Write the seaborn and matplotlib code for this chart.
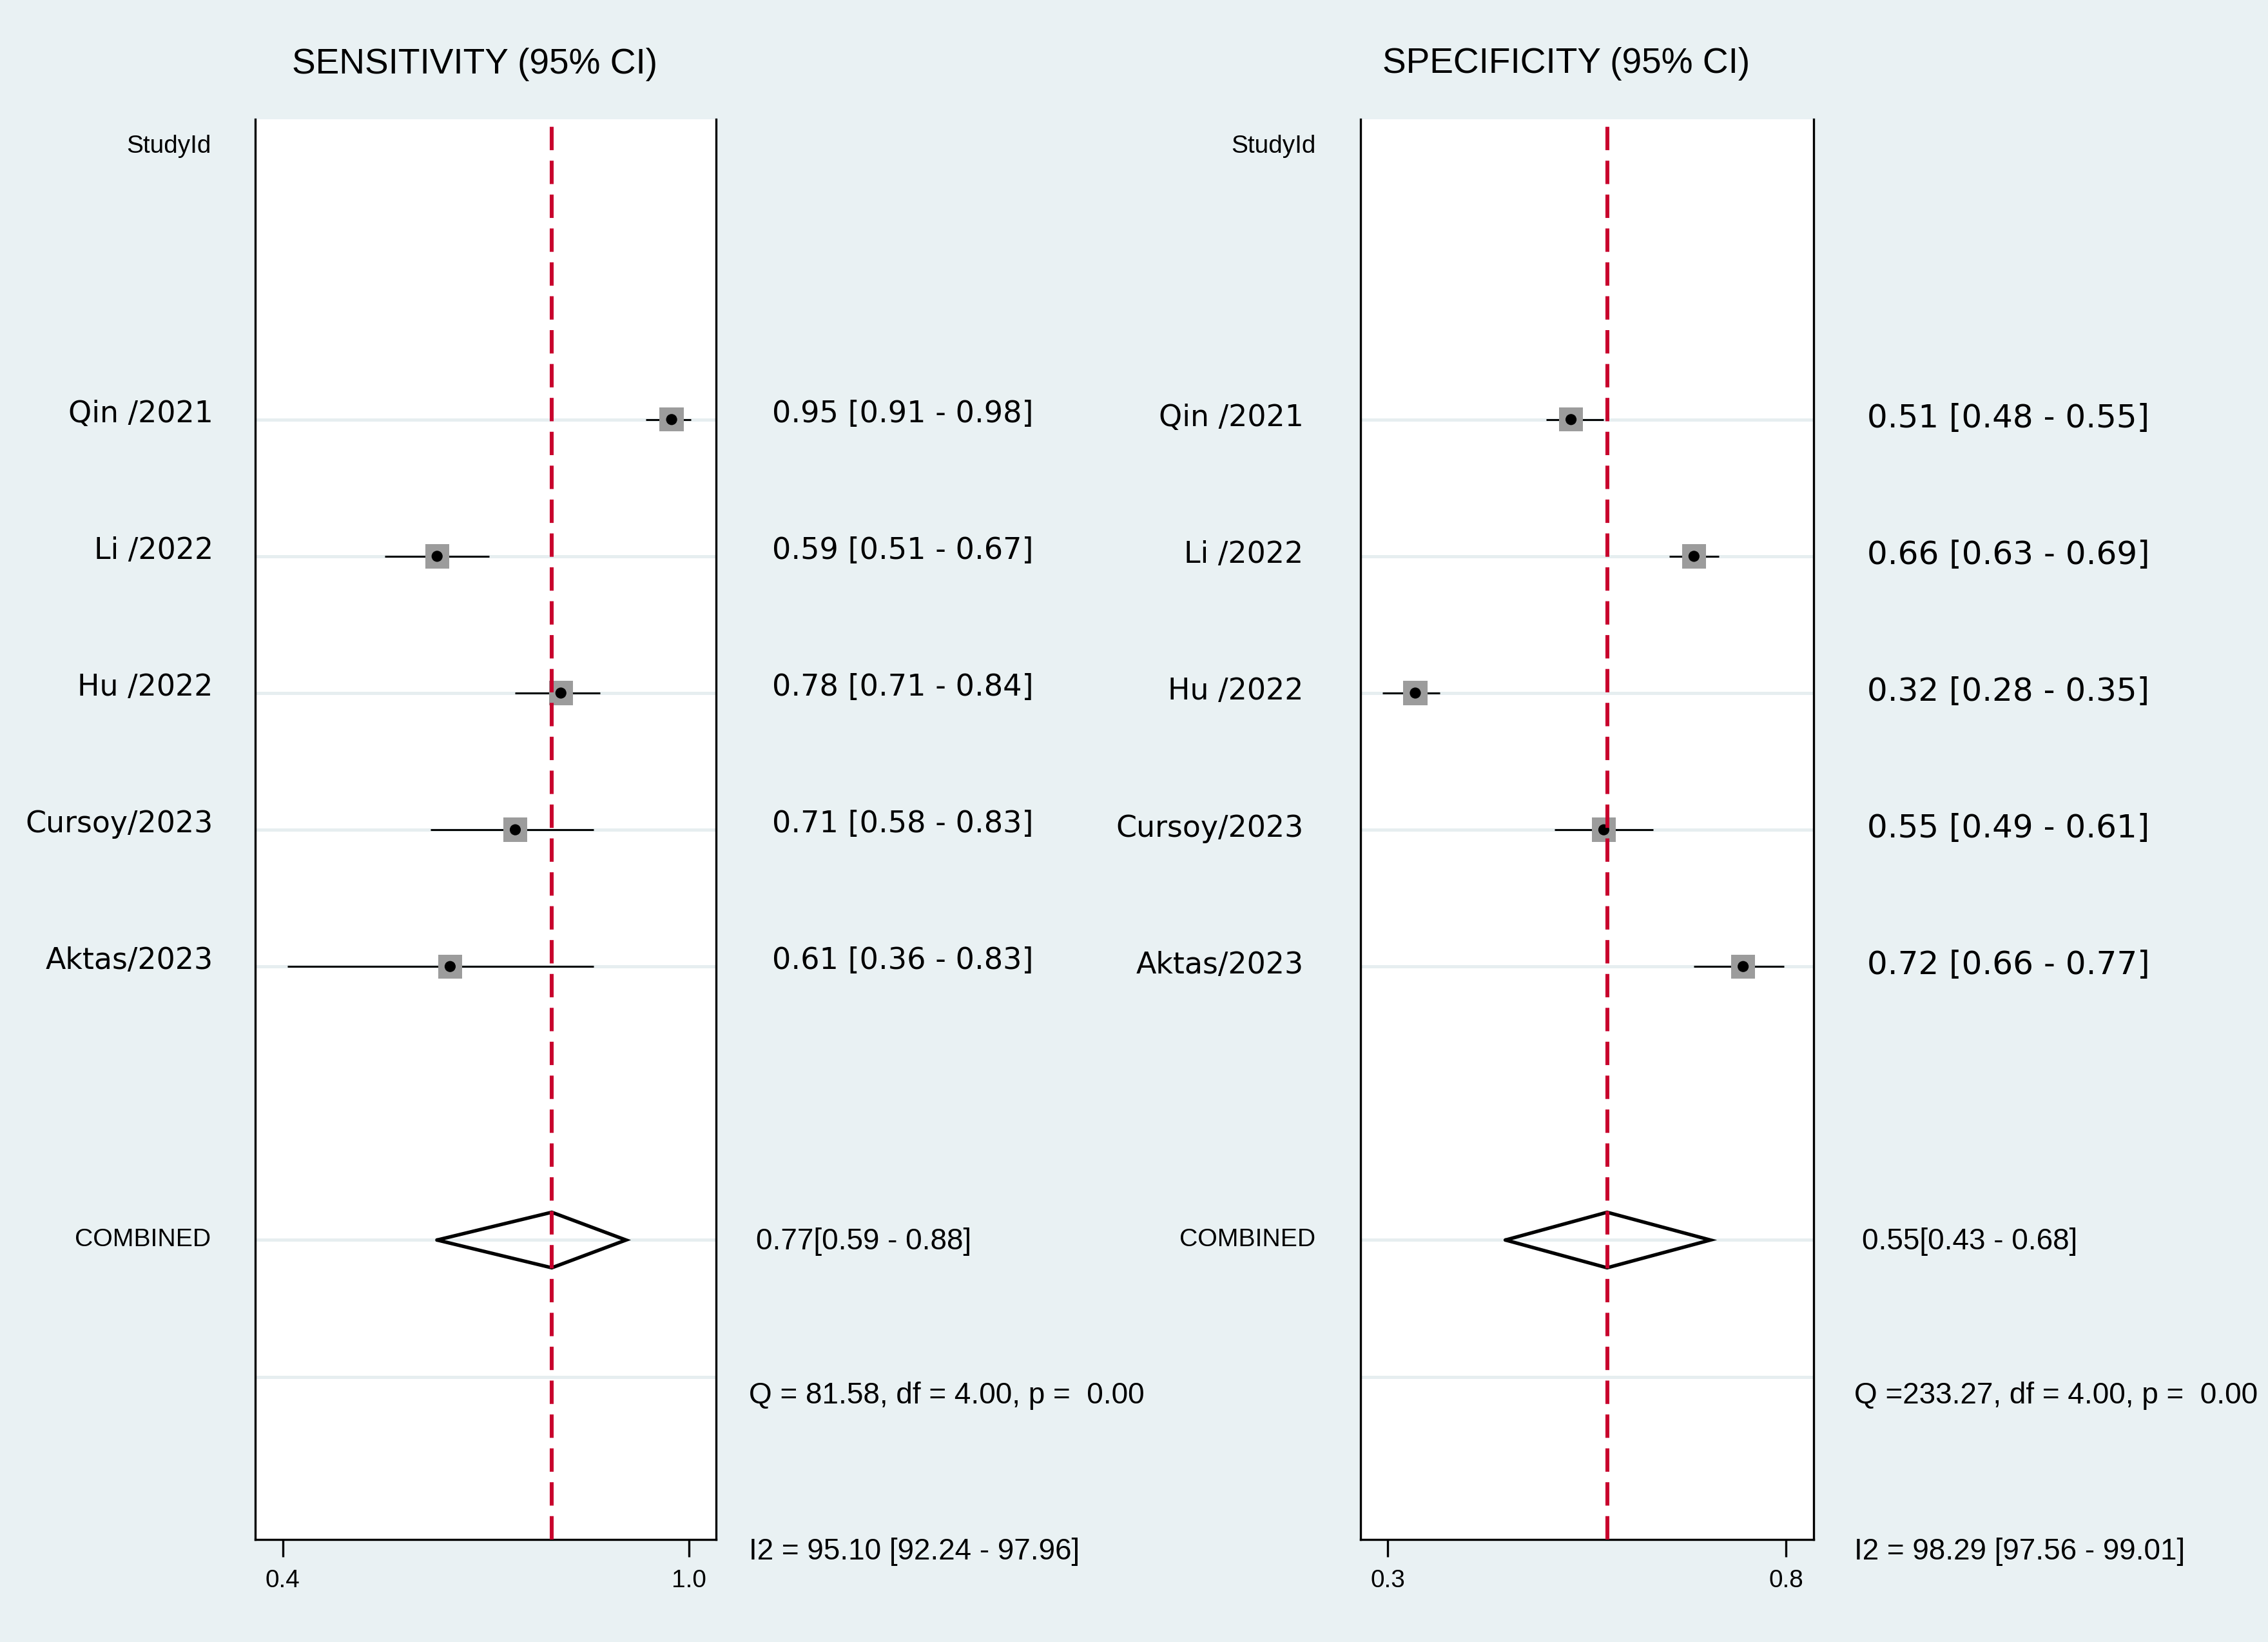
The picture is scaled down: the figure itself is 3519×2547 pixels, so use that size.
import matplotlib
matplotlib.use("Agg")
import matplotlib.pyplot as plt
import seaborn as sns
import pandas as pd

# study level data
studies = ['Qin /2021', 'Li /2022', 'Hu /2022', 'Cursoy/2023', 'Aktas/2023']
sens = [0.95, 0.59, 0.78, 0.71, 0.61]
sens_lo = [0.91, 0.51, 0.71, 0.58, 0.36]
sens_hi = [0.98, 0.67, 0.84, 0.83, 0.83]
spec = [0.51, 0.66, 0.32, 0.55, 0.72]
spec_lo = [0.48, 0.63, 0.28, 0.49, 0.66]
spec_hi = [0.55, 0.69, 0.35, 0.61, 0.77]

# pooled estimates (est, lo, hi) and heterogeneity (Q, df, p, I2, lo, hi)
sens_pool = [0.766, 0.59, 0.88]
spec_pool = [0.554, 0.43, 0.68]
sens_het = [81.58, 4.00, 0.00, 95.10, 92.24, 97.96]
spec_het = [233.27, 4.00, 0.00, 98.29, 97.56, 99.01]

BG = '#e9f1f3'
GRID = '#e6eef0'
RED = '#c8002d'

sns.set_theme(style='white')
plt.rcParams['font.family'] = ['Liberation Sans', 'DejaVu Sans']
plt.rcParams['text.color'] = 'black'
plt.rcParams['xtick.color'] = 'black'
plt.rcParams['xtick.labelcolor'] = 'black'

fig = plt.figure(figsize=(3519 / 300, 2547 / 300), dpi=300, facecolor=BG)


def forest(ax, est, lo, hi, pool, het, xlim, ticks, ticklabels, lab_x, val_x, pool_x, het_x,
           val_size=11.1, dy=-0.04):
    rows = list(range(len(studies)))
    df = pd.DataFrame({'study': studies, 'est': est, 'lo': lo, 'hi': hi, 'row': rows})
    ax.set_facecolor('white')
    for r in rows + [6, 7]:
        ax.axhline(r, color=GRID, lw=1.2, zorder=0)
    ax.hlines(df['row'], df['lo'], df['hi'], color='black', lw=0.7, zorder=2)
    sns.scatterplot(data=df, x='est', y='row', marker='s', s=80, color='#9c9c9c',
                    edgecolor='none', ax=ax, zorder=3, legend=False)
    sns.scatterplot(data=df, x='est', y='row', marker='o', s=17, color='black',
                    edgecolor='none', ax=ax, zorder=4, legend=False)
    ax.axvline(pool[0], color=RED, lw=1.45, ls=(0, (6, 2.7)), zorder=5)
    ax.plot([pool[1], pool[0], pool[2], pool[0], pool[1]],
            [6, 6 - 0.203, 6, 6 + 0.203, 6], color='black', lw=1.3, zorder=4,
            solid_joinstyle='miter')
    ax.set_xlim(*xlim)
    ax.set_ylim(8.19, -2.196)
    ax.set_xlabel('')
    ax.set_ylabel('')
    ax.set_yticks([])
    ax.set_xticks(ticks)
    ax.set_xticklabels(ticklabels, fontsize=9.3)
    ax.tick_params(axis='x', direction='out', length=6.5, width=0.8, pad=4.5,
                   bottom=True, colors='black')
    ax.spines['top'].set_visible(False)
    for s in ['left', 'right', 'bottom']:
        ax.spines[s].set_color('black')
        ax.spines[s].set_linewidth(0.8)
    tr = ax.get_yaxis_transform()
    ax.text(lab_x[1], -2, 'StudyId', transform=tr, ha='right', va='center', fontsize=9.3)
    for r, name, e, l, h in zip(rows, studies, est, lo, hi):
        ax.text(lab_x[0], r + dy, name, transform=tr, ha='right', va='center',
                fontsize=11, family='DejaVu Sans')
        ax.text(val_x, r + dy, f'{e:.2f} [{l:.2f} - {h:.2f}]', transform=tr,
                ha='left', va='center', fontsize=val_size, family='DejaVu Sans')
    ax.text(lab_x[1], 6, 'COMBINED', transform=tr, ha='right', va='center', fontsize=9.4)
    ax.text(pool_x, 6.01, f'{pool[0]:.2f}[{pool[1]:.2f} - {pool[2]:.2f}]', transform=tr,
            ha='left', va='center', fontsize=11)
    ax.text(het_x, 7.14, f'Q ={het[0]:6.2f}, df = {het[1]:.2f}, p = {het[2]:5.2f}',
            transform=tr, ha='left', va='center', fontsize=11)
    ax.text(het_x, 8.28, f'I2 = {het[3]:.2f} [{het[4]:.2f} - {het[5]:.2f}]',
            transform=tr, ha='left', va='center', fontsize=11)


ax1 = fig.add_axes([0.11253, 0.06243, 0.20319, 0.86494])
forest(ax1, sens, sens_lo, sens_hi, sens_pool, sens_het,
       (0.3108, 1.0182), [0.353, 0.977], ['0.4', '1.0'],
       (-0.091, -0.0962), 1.121, 1.0867, 1.0713)

ax2 = fig.add_axes([0.59989, 0.06243, 0.19963, 0.86494])
forest(ax2, spec, spec_lo, spec_hi, spec_pool, spec_het,
       (0.2532, 0.8056), [0.2863, 0.7722], ['0.3', '0.8'],
       (-0.126, -0.099), 1.119, 1.1075, 1.0904, val_size=12.0, dy=-0.01)

fig.text(0.2092, 0.9609, 'SENSITIVITY (95% CI)', ha='center', va='center',
         fontsize=13.2, family=['Liberation Sans Narrow', 'Liberation Sans'])
fig.text(0.6905, 0.9612, 'SPECIFICITY (95% CI)', ha='center', va='center', fontsize=13.2)

fig.savefig('out.png', dpi=300, facecolor=BG)
